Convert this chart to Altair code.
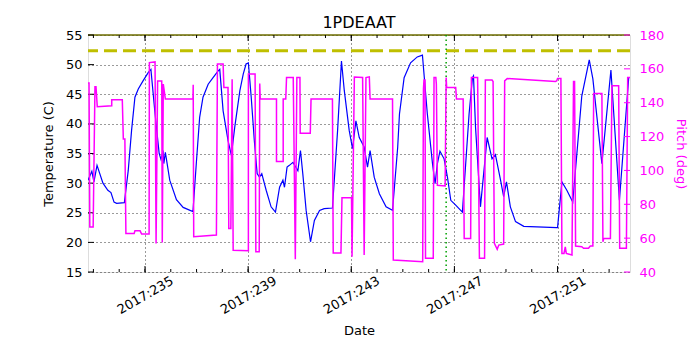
import altair as alt
import pandas as pd

# ---- data ----
temp_day = [232.79, 232.94, 233.02, 233.14, 233.37, 233.56, 233.68, 233.80, 233.90, 234.20,
            234.35, 234.48, 234.61, 234.74, 234.93, 235.13, 235.23, 235.39, 235.55, 235.62,
            235.70, 235.73, 235.79, 235.96, 236.22, 236.48, 236.86, 236.99, 237.12, 237.25,
            237.45, 237.64, 237.83, 237.90, 238.03, 238.22, 238.35, 238.48, 238.68, 238.81,
            238.92, 239.01, 239.12, 239.24, 239.35, 239.44, 239.53, 239.70, 239.89, 240.06,
            240.22, 240.35, 240.41, 240.51, 240.60, 240.74, 240.93, 241.03, 241.12, 241.25,
            241.42, 241.57, 241.77, 241.95, 242.27, 242.47, 242.62, 242.73, 242.92, 243.05,
            243.18, 243.31, 243.50, 243.63, 243.73, 243.89, 244.09, 244.35, 244.60, 244.80,
            244.87, 245.05, 245.30, 245.56, 245.76, 245.95, 246.15, 246.25, 246.34, 246.44,
            246.60, 246.73, 246.86, 247.05, 247.31, 247.57, 247.70, 247.74, 247.82, 248.01,
            248.27, 248.46, 248.59, 248.79, 248.91, 249.02, 249.17, 249.37, 249.69, 250.20,
            250.97, 251.00, 251.17, 251.36, 251.59, 251.94, 252.23, 252.37, 252.72, 253.07,
            253.40, 253.76]
temp_val = [30.5, 32.0, 30.2, 33.0, 30.0, 28.8, 28.4, 26.8, 26.6, 26.7,
            32.1, 38.9, 44.5, 45.9, 47.3, 48.7, 49.2, 41.7, 35.0, 34.0,
            35.5, 33.3, 35.2, 30.5, 27.2, 25.9, 25.2, 33.3, 41.1, 44.5,
            46.7, 47.8, 48.9, 49.2, 42.2, 37.2, 34.7, 39.4, 45.6, 48.4,
            50.1, 50.3, 44.5, 37.2, 31.6, 31.0, 31.6, 28.8, 26.0, 25.1,
            29.3, 30.5, 29.3, 32.7, 33.0, 33.5, 32.1, 35.5, 31.6, 25.4,
            20.1, 23.7, 25.4, 25.7, 25.8, 38.9, 50.6, 45.6, 38.9, 35.8,
            40.5, 37.7, 36.1, 32.7, 35.5, 31.0, 28.2, 26.0, 25.4, 36.0,
            41.7, 47.8, 50.3, 51.3, 51.6, 41.7, 33.3, 29.9, 33.3, 35.4,
            34.1, 31.0, 27.1, 26.3, 25.1, 41.7, 47.8, 48.1, 39.4, 26.0,
            37.7, 34.1, 34.8, 30.5, 27.7, 30.2, 26.0, 23.5, 22.7, 22.6,
            22.5, 22.5, 30.2, 28.8, 26.8, 44.7, 50.8, 47.6, 33.3, 49.1,
            27.1, 47.8]

pitch_day = [232.79, 232.83, 232.86, 232.99, 233.06, 233.10, 233.15, 233.71, 233.71, 234.12,
             234.16, 234.22, 234.26, 234.58, 234.61, 234.81, 234.87, 235.16, 235.17, 235.39,
             235.43, 235.49, 235.65, 235.67, 235.71, 235.79, 236.86, 236.87, 236.89, 237.77,
             237.81, 238.03, 238.06, 238.22, 238.25, 238.33, 238.38, 238.42, 239.01, 239.01,
             239.27, 239.30, 239.43, 239.45, 239.47, 240.10, 240.10, 240.36, 240.36, 240.46,
             240.49, 240.75, 240.83, 240.89, 241.01, 241.02, 241.41, 241.44, 242.27, 242.30,
             242.60, 242.64, 243.01, 243.03, 243.12, 243.44, 243.50, 243.57, 243.70, 243.73,
             244.60, 244.63, 245.77, 245.80, 245.82, 245.86, 245.88, 246.18, 246.21, 246.28,
             246.30, 246.34, 246.64, 246.68, 246.70, 247.05, 247.08, 247.34, 247.38, 247.63,
             247.66, 247.90, 247.97, 248.17, 248.20, 248.46, 248.50, 248.55, 248.66, 248.72,
             248.91, 248.95, 249.05, 250.92, 250.97, 251.00, 251.13, 251.17, 251.25, 251.30,
             251.34, 251.56, 251.62, 251.66, 251.70, 251.94, 252.01, 252.20, 252.27, 252.37,
             252.40, 252.72, 252.76, 252.79, 253.05, 253.11, 253.37, 253.41, 253.67, 253.72,
             253.81]
pitch_val = [151.6, 151.6, 66.6, 66.6, 149.4, 149.4, 137.6, 138.2, 141.8, 141.8,
             118.6, 118.6, 62.8, 62.8, 64.3, 64.3, 62.4, 62.4, 163.7, 164.1,
             56.9, 152.9, 152.9, 57.5, 151.0, 142.2, 142.2, 150.6, 60.8, 61.8,
             162.8, 162.8, 149.0, 149.0, 65.7, 65.7, 153.9, 52.9, 52.5, 156.9,
             156.9, 52.0, 52.0, 151.4, 142.2, 142.2, 105.3, 105.3, 142.2, 142.2,
             154.9, 154.9, 47.5, 154.9, 154.9, 122.0, 122.0, 142.2, 142.2, 51.2,
             51.2, 83.8, 83.8, 49.0, 155.2, 154.9, 50.0, 154.9, 155.3, 142.2,
             142.2, 47.1, 46.1, 148.1, 153.4, 153.4, 48.1, 48.1, 154.9, 154.9,
             151.0, 91.2, 90.8, 154.9, 149.0, 149.0, 142.2, 142.2, 59.8, 59.8,
             154.9, 154.9, 48.1, 48.1, 153.4, 153.4, 152.5, 56.9, 53.4, 55.9,
             56.5, 152.9, 154.3, 152.5, 153.0, 154.3, 154.3, 51.0, 51.0, 54.9,
             51.0, 50.0, 152.5, 152.5, 55.3, 54.9, 54.0, 54.0, 55.3, 55.3,
             145.5, 145.5, 57.8, 59.8, 59.8, 150.0, 150.0, 54.0, 54.0, 154.9,
             154.9]

x_domain = [232.79, 253.81]
x_major = [235, 239, 243, 247, 251]
x_minor = list(range(233, 254))
temp_ticks = [15, 20, 25, 30, 35, 40, 45, 50, 55]
pitch_ticks = [40, 60, 80, 100, 120, 140, 160, 180]
yellow_limit = [52.35]
top_limit = [55]
event_day = [246.68]

W, H = 542, 237
FONT = "DejaVu Sans"

temp_df = pd.DataFrame({"day": temp_day, "temp": temp_val, "i": range(len(temp_day))})
pitch_df = pd.DataFrame({"day": pitch_day, "pitch": pitch_val, "i": range(len(pitch_day))})

xscale = alt.Scale(domain=x_domain, nice=False, zero=False)
tscale = alt.Scale(domain=[15, 55], nice=False, zero=False)
pscale = alt.Scale(domain=[40, 180], nice=False, zero=False)

x_axis = alt.Axis(values=x_major, labelExpr="'2017:' + datum.value", labelAngle=-30,
                  labelAlign="center", labelBaseline="middle", labelPadding=23,
                  labelOverlap=False, labelFlush=False, ticks=False, tickSize=0,
                  domain=False, grid=True, gridColor="black", gridDash=[1, 3],
                  gridWidth=0.8, gridOpacity=1, title="Date", titlePadding=8,
                  labelFontSize=13, titleFontSize=13, labelColor="black",
                  titleColor="black", titleFontWeight="normal", labelFont=FONT,
                  titleFont=FONT)
t_axis = alt.Axis(values=temp_ticks, ticks=False, tickSize=0, domain=False, grid=True,
                  gridColor="black", gridDash=[1, 3], gridWidth=0.8, gridOpacity=1,
                  labelPadding=6, title="Temperature (C)", titlePadding=10,
                  labelFontSize=13, titleFontSize=13, labelColor="black",
                  titleColor="black", titleFontWeight="normal", labelFont=FONT,
                  titleFont=FONT)
p_axis = alt.Axis(values=pitch_ticks, orient="right", ticks=False, tickSize=0,
                  domain=False, grid=False, labelPadding=9, title="Pitch (deg)",
                  titlePadding=10, labelFontSize=13, titleFontSize=13,
                  labelColor="#ff00ff", titleColor="#ff00ff", titleFontWeight="normal",
                  labelFont=FONT, titleFont=FONT)

X = lambda f="day": alt.X(f"{f}:Q", scale=xscale, axis=x_axis)

blue = alt.Chart(temp_df).mark_line(color="#0000ff", strokeWidth=1.2, clip=True).encode(
    x=X(), y=alt.Y("temp:Q", scale=tscale, axis=t_axis), order="i:Q")

yellow = alt.Chart(pd.DataFrame({"temp": yellow_limit})).mark_rule(
    color="#bfbf00", strokeWidth=3, strokeDash=[13, 6]).encode(
    y=alt.Y("temp:Q", scale=tscale, axis=t_axis))
top = alt.Chart(pd.DataFrame({"temp": top_limit})).mark_rule(
    color="#6e6e00", strokeWidth=1.5).encode(
    y=alt.Y("temp:Q", scale=tscale, axis=t_axis))
green = alt.Chart(pd.DataFrame({"day": event_day})).mark_rule(
    color="#00a000", strokeWidth=1.5, strokeDash=[1.5, 3]).encode(x=X())

minor_b = alt.Chart(pd.DataFrame({"day": x_minor})).mark_rule(color="black", strokeWidth=1).encode(
    x=X(), y=alt.value(H), y2=alt.value(H - 3))
minor_t = alt.Chart(pd.DataFrame({"day": x_minor})).mark_rule(color="black", strokeWidth=1).encode(
    x=X(), y=alt.value(0), y2=alt.value(3))
major_b = alt.Chart(pd.DataFrame({"day": x_major})).mark_rule(color="black", strokeWidth=1).encode(
    x=X(), y=alt.value(H), y2=alt.value(H - 6))
major_t = alt.Chart(pd.DataFrame({"day": x_major})).mark_rule(color="black", strokeWidth=1).encode(
    x=X(), y=alt.value(0), y2=alt.value(6))
t_tick = alt.Chart(pd.DataFrame({"temp": temp_ticks})).mark_rule(color="black", strokeWidth=1).encode(
    y=alt.Y("temp:Q", scale=tscale, axis=t_axis), x=alt.value(0), x2=alt.value(6))

magenta = alt.Chart(pitch_df).mark_line(color="#ff00ff", strokeWidth=1.5, clip=True).encode(
    x=X(), y=alt.Y("pitch:Q", scale=pscale, axis=p_axis), order="i:Q")
p_tick = alt.Chart(pd.DataFrame({"pitch": pitch_ticks})).mark_rule(color="#ff00ff", strokeWidth=1).encode(
    y=alt.Y("pitch:Q", scale=pscale, axis=p_axis), x=alt.value(W), x2=alt.value(W - 6))

temp_group = alt.layer(top, yellow, green, blue, minor_b, minor_t, major_b, major_t, t_tick)
pitch_group = alt.layer(magenta, p_tick)

chart = alt.layer(temp_group, pitch_group).resolve_scale(y="independent").properties(
    width=W, height=H,
    title=alt.TitleParams("1PDEAAT", fontSize=16, font=FONT, fontWeight="normal",
                          anchor="middle", offset=-2, color="black"),
    padding={"left": 80, "top": 27, "right": 60, "bottom": 76},
    autosize=alt.AutoSizeParams(type="none"),
).configure_view(stroke="black", strokeWidth=1.2).configure(background="white")

chart.save("out.html", embed_options={"renderer": "svg", "actions": False})
